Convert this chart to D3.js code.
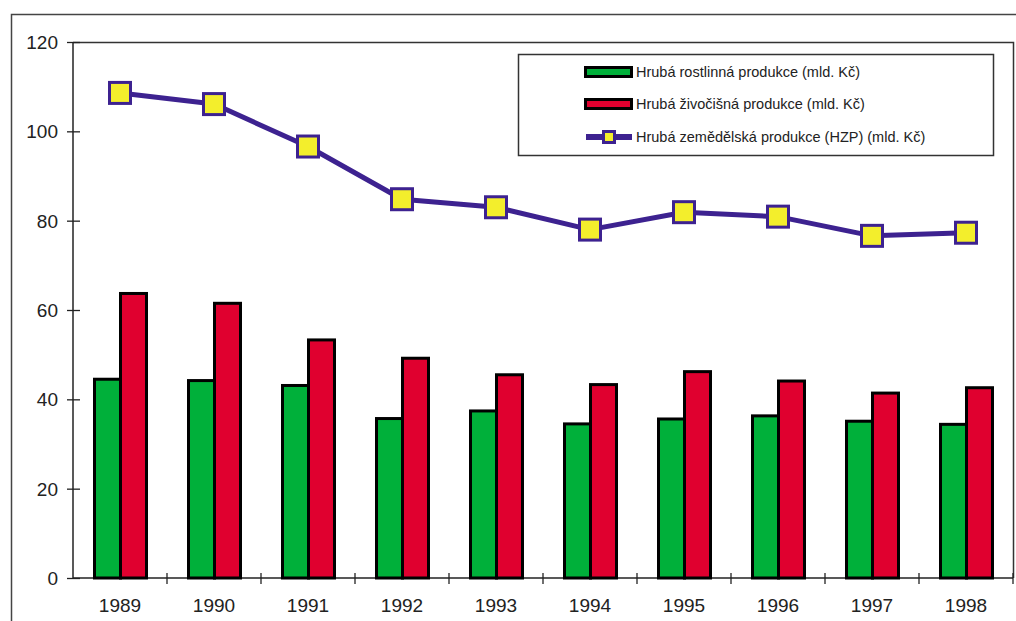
<!DOCTYPE html>
<html><head><meta charset="utf-8">
<script src="https://cdn.jsdelivr.net/npm/d3@7"></script>
<style>body{margin:0;background:#fff}svg{display:block}text{font-family:"Liberation Sans",Arial,sans-serif;fill:#222}</style>
</head><body><svg id="c" width="1016" height="621"></svg>
<script>
const years = ["1989","1990","1991","1992","1993","1994","1995","1996","1997","1998"];
const plantValues = [44.5, 44.2, 43.1, 35.7, 37.4, 34.5, 35.6, 36.3, 35.1, 34.4];
const animalValues = [63.7, 61.5, 53.3, 49.2, 45.5, 43.3, 46.2, 44.1, 41.4, 42.6];
const totalValues = [108.6, 106.1, 96.6, 84.8, 83.0, 78.0, 81.9, 80.9, 76.6, 77.3];
const yTicks = [0, 20, 40, 60, 80, 100, 120];
const seriesNames = ["Hrubá rostlinná produkce (mld. Kč)", "Hrubá živočišná produkce (mld. Kč)", "Hrubá zemědělská produkce (HZP) (mld. Kč)"];
const colors = ["#00b03a", "#e0002f", "#3d2290"];
const markerFill = "#f3ee2c";

const svg = d3.select("#c");
const L = 73, R = 1013, T = 42, B = 578;
const x0 = d3.scaleBand().domain(years).range([L, R]);
const x1 = d3.scaleBand().domain(["plant", "animal"]).range([21.5, 73.5]);
const y = d3.scaleLinear().domain([0, 120]).range([B, T]);

// outer frame
svg.append("path").attr("d", "M11.5,621 V14.5 H1016").attr("fill", "none").attr("stroke", "#444").attr("stroke-width", 1.5);
// plot border
svg.append("path").attr("d", `M${L},${T+0.5} H${R+0.5} V${B}`).attr("fill", "none").attr("stroke", "#333").attr("stroke-width", 1.5);

// y axis
const yAxis = svg.append("g").attr("transform", `translate(${L},0)`)
  .call(d3.axisLeft(y).tickValues(yTicks).tickSize(6).tickPadding(9).tickFormat(d3.format("d")));
yAxis.select(".domain").remove();
yAxis.selectAll(".tick line").attr("x1", -6).attr("x2", 7).attr("stroke", "#222").attr("stroke-width", 1.3);
yAxis.selectAll("text").attr("font-size", 19).attr("fill", "#2a2a2a").attr("dy", "0.34em");
svg.append("line").attr("x1", L).attr("x2", L).attr("y1", T).attr("y2", B).attr("stroke", "#222").attr("stroke-width", 1.5);

// x axis
const xAxis = svg.append("g").attr("transform", `translate(0,${B})`)
  .call(d3.axisBottom(x0).tickSize(0).tickPadding(21));
xAxis.select(".domain").remove();
xAxis.selectAll("text").attr("font-size", 19).attr("fill", "#2a2a2a");
svg.append("line").attr("x1", L).attr("x2", R).attr("y1", B).attr("y2", B).attr("stroke", "#222").attr("stroke-width", 1.5);
svg.append("g").selectAll("line").data(years.slice(1).concat(["end"])).join("line")
  .attr("x1", (d, i) => L + x0.step() * (i + 1)).attr("x2", (d, i) => L + x0.step() * (i + 1))
  .attr("y1", B - 5).attr("y2", B + 6).attr("stroke", "#222").attr("stroke-width", 1.3);

// bars
const g = svg.append("g");
const barData = years.map((yr, i) => [
  {yr, key: "plant", v: plantValues[i], c: colors[0]},
  {yr, key: "animal", v: animalValues[i], c: colors[1]}
]).flat();
g.selectAll("rect").data(barData).join("rect")
  .attr("x", d => x0(d.yr) + x1(d.key))
  .attr("width", x1.bandwidth())
  .attr("y", d => y(d.v))
  .attr("height", d => y(0) - y(d.v))
  .attr("fill", d => d.c).attr("stroke", "#000").attr("stroke-width", 3);

// line
const cx = d => x0(d) + x0.bandwidth() / 2;
const line = d3.line().x((d, i) => cx(years[i])).y(d => y(d));
svg.append("path").datum(totalValues).attr("d", line).attr("fill", "none")
  .attr("stroke", colors[2]).attr("stroke-width", 5).attr("stroke-linejoin", "round");
svg.append("g").selectAll("rect").data(totalValues).join("rect")
  .attr("x", (d, i) => cx(years[i]) - 10.5).attr("y", d => y(d) - 10.5)
  .attr("width", 21).attr("height", 21)
  .attr("fill", markerFill).attr("stroke", colors[2]).attr("stroke-width", 3);

// legend
const lg = svg.append("g");
lg.append("rect").attr("x", 518.5).attr("y", 54.5).attr("width", 475).attr("height", 101)
  .attr("fill", "#fff").attr("stroke", "#333").attr("stroke-width", 1.5);
const rowsY = [72, 104, 137];
[0, 1].forEach(i => {
  lg.append("rect").attr("x", 585.5).attr("y", rowsY[i] - 4.5).attr("width", 46).attr("height", 9)
    .attr("fill", colors[i]).attr("stroke", "#000").attr("stroke-width", 3);
});
lg.append("line").attr("x1", 586).attr("x2", 632).attr("y1", rowsY[2]).attr("y2", rowsY[2])
  .attr("stroke", colors[2]).attr("stroke-width", 6);
lg.append("rect").attr("x", 603.5).attr("y", rowsY[2] - 5.5).attr("width", 11).attr("height", 11)
  .attr("fill", markerFill).attr("stroke", colors[2]).attr("stroke-width", 3);
seriesNames.forEach((s, i) => {
  lg.append("text").attr("x", 636).attr("y", rowsY[i]).attr("dy", "0.35em")
    .attr("font-size", 14.5).attr("fill", "#2a2a2a").text(s);
});
</script></body></html>
